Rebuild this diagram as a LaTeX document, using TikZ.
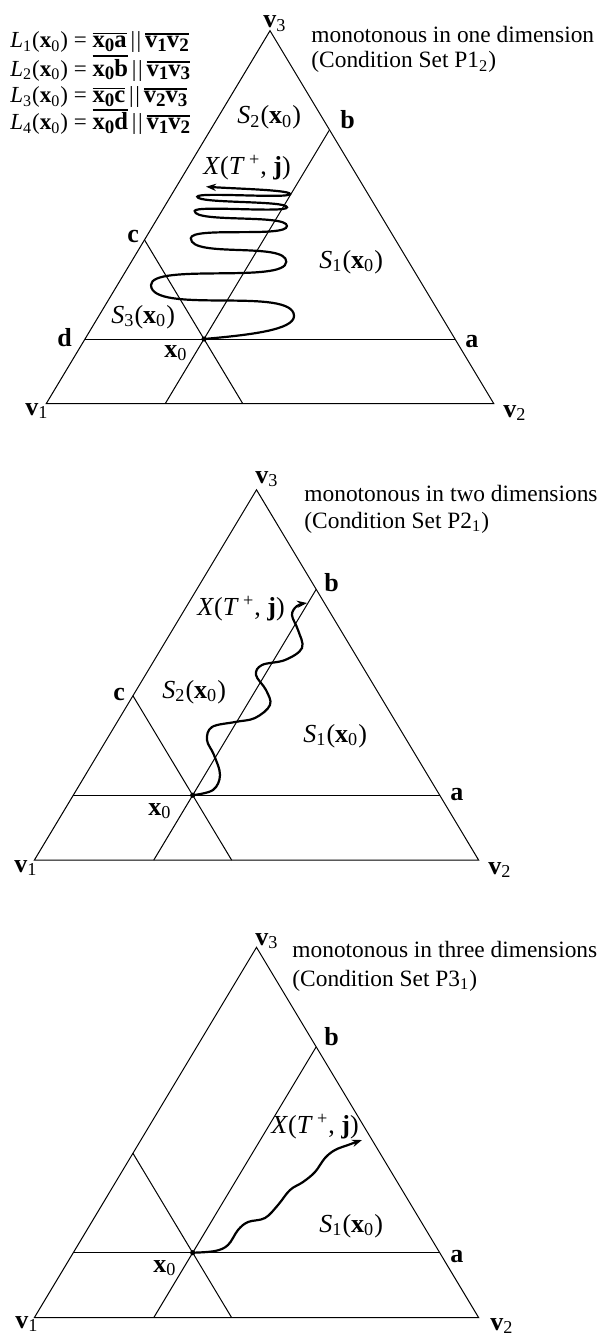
\documentclass[tikz,border=0pt]{standalone}
\usepackage{fontspec}
\setmainfont{Liberation Serif}
\usetikzlibrary{arrows.meta}
\newcommand{\vv}[1]{\textbf{v}\textsubscript{#1}}
\newcommand{\xo}{\textbf{x}\textsubscript{0}}
\newcommand{\Sx}[1]{\textit{S}\textsubscript{#1}(\xo)}
\newcommand{\XTj}{\textit{X}(\textit{T}\,\textsuperscript{+}, \textbf{j})}
\newcommand{\ob}[1]{\leavevmode\vbox{\hrule height 0.9pt\kern1.0pt\hbox{\fontsize{12.3}{14}\selectfont\bfseries #1}}}
\newcommand{\bs}[1]{\raisebox{-0.3ex}{\fontsize{9.5}{9.5}\selectfont\bfseries #1}}
\newcommand{\Lx}[1]{\textit{L}\textsubscript{#1}(\xo)}
\newcommand{\para}{\,|\kern0.8pt|\,}
\tikzset{
  edge/.style={line width=0.5pt},
  wave/.style={line width=1.1pt, line cap=round},
  tip/.style={-{Stealth[length=5pt,width=3.6pt]}},
  lab/.style={font=\fontsize{13}{15}\selectfont, inner sep=0pt, anchor=base west},
  desc/.style={font=\fontsize{11.7}{14}\selectfont, inner sep=0pt, anchor=base west},
  eq/.style={font=\fontsize{11.5}{14}\selectfont, inner sep=0pt, anchor=base west},
  dot/.style={circle, fill=black, inner sep=0pt, minimum size=2.6pt}
}
\begin{document}
\begin{tikzpicture}[x=0.5pt, y=-0.5pt]
\useasboundingbox (0,0) rectangle (598,1338);
% ---------------- panel 1 ----------------
\coordinate (v1a) at (46.2,403.7);
\coordinate (v2a) at (493.8,403.7);
\coordinate (v3a) at (270,30.7);
\coordinate (da) at (85,339);
\coordinate (aa) at (455,339);
\coordinate (ca) at (144.4,239.7);
\coordinate (ba) at (329.1,130.5);
\coordinate (pa1) at (165.2,403.7);
\coordinate (pa2) at (242.8,403.7);
\node[dot] (x0a) at (204,339) {};
\draw[edge] (v1a) -- (v2a) -- (v3a) -- cycle;
\draw[edge] (da) -- (aa);
\draw[edge] (ca) -- (pa2);
\draw[edge] (ba) -- (pa1);
\coordinate (enda) at (206,186.7);
\draw[wave,tip] (x0a.center) .. controls +(45,-4) and +(0,14) .. (294,316)
  .. controls +(0,-30) and +(0,30) .. (151,285)
  .. controls +(0,-22) and +(0,22) .. (286.3,261.7)
  .. controls +(0,-20) and +(0,20) .. (190.8,238.3)
  .. controls +(0,-12) and +(0,12) .. (287,226)
  .. controls +(0,-12) and +(0,12) .. (194.7,211)
  .. controls +(0,-6) and +(0,6) .. (287,207.3)
  .. controls +(0,-7) and +(0,7) .. (197.3,196.7)
  .. controls +(0,-5) and +(0,5) .. (290,194)
  .. controls +(0,-4) and +(30,2) .. (enda);
\node[lab] (lv3a) at (263,28) {\vv{3}};
\node[lab] (lv1a) at (25,415) {\vv{1}};
\node[lab] (lv2a) at (503,417) {\vv{2}};
\node[lab] (lba) at (340,128) {\textbf{b}};
\node[lab] (lca) at (127,242) {\textbf{c}};
\node[lab] (lda) at (57,346) {\textbf{d}};
\node[lab] (laa) at (465,347) {\textbf{a}};
\node[lab] (lxa) at (164,357) {\xo};
\node[lab] (s2a) at (237,124) {\Sx{2}};
\node[lab] (s1a) at (319,268) {\Sx{1}};
\node[lab] (s3a) at (111,323) {\Sx{3}};
\node[lab] (xta) at (203,174) {\XTj};
\node[desc] (d1a) at (311,43) {monotonous in one dimension};
\node[desc] (d2a) at (311,68) {(Condition Set P1\textsubscript{2})};
\node[eq] (e1) at (10,48) {\Lx{1} = \ob{x\bs{0}a}\para\ob{v\bs{1}v\bs{2}}};
\node[eq] (e2) at (10,76) {\Lx{2} = \ob{x\bs{0}b}\para\ob{v\bs{1}v\bs{3}}};
\node[eq] (e3) at (10,103) {\Lx{3} = \ob{x\bs{0}c}\para\ob{v\bs{2}v\bs{3}}};
\node[eq] (e4) at (10,130) {\Lx{4} = \ob{x\bs{0}d}\para\ob{v\bs{1}v\bs{2}}};
% ---------------- panel 2 ----------------
\coordinate (v1b) at (34.3,860.2);
\coordinate (v2b) at (478.7,860.2);
\coordinate (v3b) at (256.5,489.8);
\coordinate (db) at (73.3,795.2);
\coordinate (ab) at (439.7,795.2);
\coordinate (cb) at (132.9,695.7);
\coordinate (bb) at (316.2,589.3);
\coordinate (pb1) at (153.7,860.2);
\coordinate (pb2) at (231.7,860.2);
\node[dot] (x0b) at (192.7,795.2) {};
\draw[edge] (v1b) -- (v2b) -- (v3b) -- cycle;
\draw[edge] (db) -- (ab);
\draw[edge] (cb) -- (pb2);
\draw[edge] (bb) -- (pb1);
\coordinate (endb) at (307,603);
\draw[wave,tip] plot[smooth, tension=0.6] coordinates {(x0b.center) (213,790) (220,775) (214,755) (207,740) (212,727) (235,722) (255,718) (270,705) (266,690) (256,675) (262,665) (285,660) (302,648) (298,630) (292,615) (297,606) (endb)};
\node[lab] (lv3b) at (255,483) {\vv{3}};
\node[lab] (lv1b) at (14,872) {\vv{1}};
\node[lab] (lv2b) at (488,874) {\vv{2}};
\node[lab] (lbb) at (324,591) {\textbf{b}};
\node[lab] (lcb) at (113,700) {\textbf{c}};
\node[lab] (lab2) at (450,800) {\textbf{a}};
\node[lab] (lxb) at (148,815) {\xo};
\node[lab] (s2b) at (162,698) {\Sx{2}};
\node[lab] (s1b) at (303,742) {\Sx{1}};
\node[lab] (xtb) at (197,615) {\XTj};
\node[desc] (d1b) at (304,501) {monotonous in two dimensions};
\node[desc] (d2b) at (304,528) {(Condition Set P2\textsubscript{1})};
% ---------------- panel 3 ----------------
\coordinate (v1c) at (34.3,1317.7);
\coordinate (v2c) at (478.7,1317.7);
\coordinate (v3c) at (256.5,947.3);
\coordinate (dc) at (73.3,1252.7);
\coordinate (ac) at (439.7,1252.7);
\coordinate (cc) at (132.9,1153.2);
\coordinate (bc) at (316.2,1046.8);
\coordinate (pc1) at (153.7,1317.7);
\coordinate (pc2) at (231.7,1317.7);
\node[dot] (x0c) at (192.7,1252.7) {};
\draw[edge] (v1c) -- (v2c) -- (v3c) -- cycle;
\draw[edge] (dc) -- (ac);
\draw[edge] (cc) -- (pc2);
\draw[edge] (bc) -- (pc1);
\coordinate (endc) at (362,1140);
\draw[wave,tip] plot[smooth, tension=0.6] coordinates {(x0c.center) (215,1251) (228,1245) (238,1230) (248,1222) (265,1218) (278,1205) (290,1190) (303,1182) (315,1172) (325,1158) (335,1150) (348,1145) (endc)};
\node[lab] (lv3c) at (255,945) {\vv{3}};
\node[lab] (lv1c) at (15,1328) {\vv{1}};
\node[lab] (lv2c) at (490,1330) {\vv{2}};
\node[lab] (lbc) at (324,1045) {\textbf{b}};
\node[lab] (lac) at (450,1262) {\textbf{a}};
\node[lab] (lxc) at (153,1272) {\xo};
\node[lab] (s1c) at (319,1232) {\Sx{1}};
\node[lab] (xtc) at (271,1133) {\XTj};
\node[desc] (d1c) at (292,957) {monotonous in three dimensions};
\node[desc] (d2c) at (292,986) {(Condition Set P3\textsubscript{1})};
\end{tikzpicture}
\end{document}
